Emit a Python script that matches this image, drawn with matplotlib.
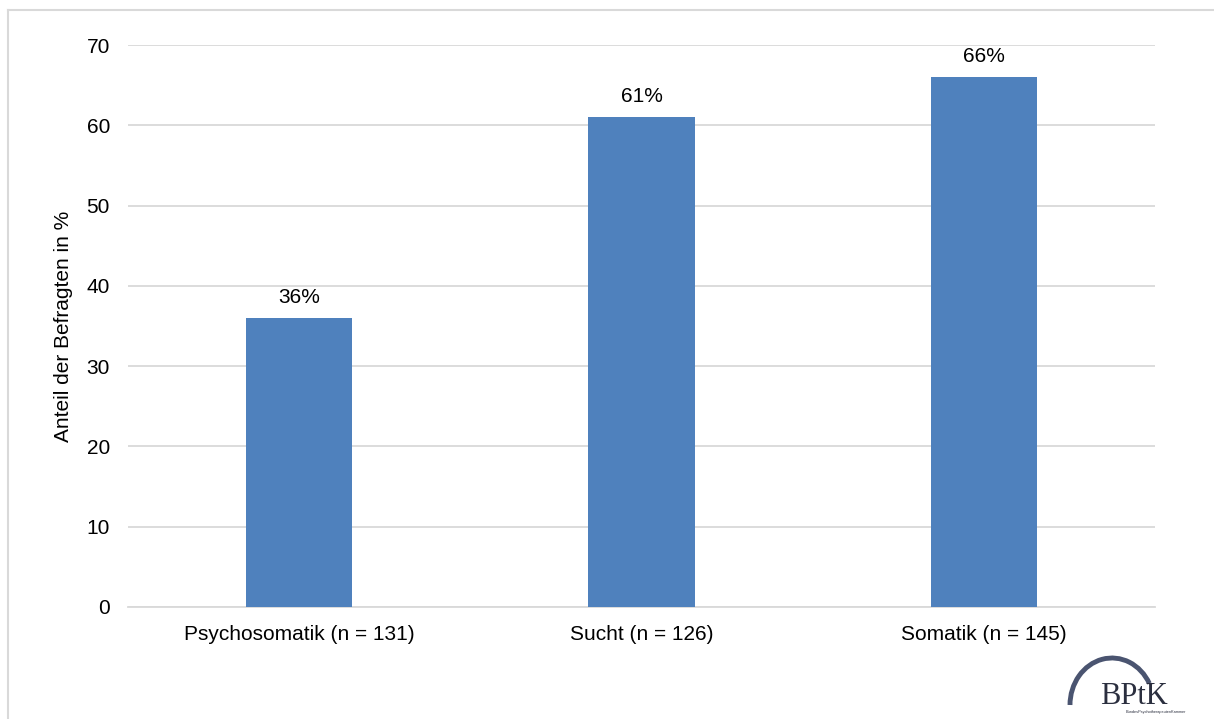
import matplotlib
matplotlib.use("Agg")
import matplotlib.pyplot as plt
from matplotlib.patches import Arc
from matplotlib.lines import Line2D

categories = ["Psychosomatik (n = 131)", "Sucht (n = 126)", "Somatik (n = 145)"]
values = [36, 61, 66]
labels = ["36%", "61%", "66%"]
yticks = [0, 10, 20, 30, 40, 50, 60, 70]

plt.rcParams['font.family'] = ['Liberation Sans', 'DejaVu Sans']

fig = plt.figure(figsize=(12.14, 7.19), dpi=100)
ax = fig.add_axes([0.1054, 0.1558, 0.846, 0.7816])

x = range(len(categories))
ax.bar(x, values, width=0.31, color="#4f81bd", zorder=3)
for xi, v, lab in zip(x, values, labels):
    ax.text(xi, v + 1.4, lab, ha="center", va="bottom", fontsize=15, color="#000000")

ax.set_xlim(-0.5, 2.5)
ax.set_ylim(0, 70)
ax.set_yticks(yticks)
ax.set_xticks(list(x))
ax.set_xticklabels(categories, fontsize=15)
ax.tick_params(axis="y", labelsize=15, length=0, pad=13)
ax.tick_params(axis="x", length=0, pad=13)
ax.yaxis.grid(True, color="#d9d9d9", linewidth=1.3, zorder=0)
for s in ["top", "right", "left"]:
    ax.spines[s].set_visible(False)
ax.spines["bottom"].set_color("#d9d9d9")
ax.spines["bottom"].set_linewidth(1.3)
ax.set_ylabel("Anteil der Befragten in %", fontsize=15, labelpad=10)

# outer frame lines
fig.add_artist(Line2D([8/1214, 1.0], [1 - 10/719, 1 - 10/719], color="#d9d9d9", linewidth=1.5))
fig.add_artist(Line2D([8/1214, 8/1214], [0, 1 - 10/719], color="#d9d9d9", linewidth=1.5))

# logo
lax = fig.add_axes([1060/1214, 0, 150/1214, 65/719])
lax.set_xlim(0, 150)
lax.set_ylim(0, 65)
lax.axis("off")
lax.add_patch(Arc((52, 14), 84, 94, theta1=30, theta2=180, color="#4a5470", linewidth=3.5))
lax.text(40, 15, "BPtK", family=["Liberation Serif", "DejaVu Serif"], fontsize=22, color="#2b2f3f", va="baseline")
lax.text(66, 5, "BundesPsychotherapeutenKammer", fontsize=2.8, color="#2b2f3f", va="bottom")

fig.savefig("out.png", dpi=100, facecolor="white")
